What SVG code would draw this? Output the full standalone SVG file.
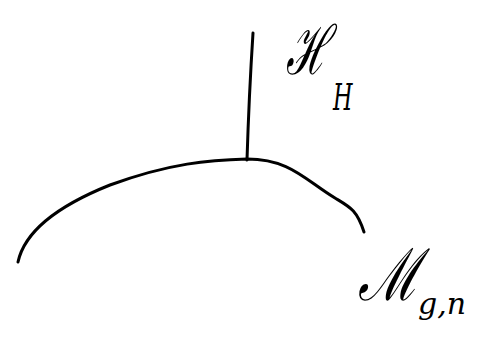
<svg xmlns="http://www.w3.org/2000/svg" width="492" height="350" viewBox="0 0 492 350">
<style>
.stroke{fill:none;stroke:#000;stroke-width:3;stroke-linecap:round;stroke-linejoin:round}
.lbl{font-family:"DejaVu Serif","Liberation Serif",serif;fill:#000;font-style:italic}
</style>
<rect width="492" height="350" fill="#fff"/>
<g id="connectors">
<path class="stroke" d="M253,33 Q249,95 247,160"/>
<path class="stroke" d="M18,262 C25,230 60,205 110,185 C170,163 210,160 247,159 C290,159 305,180 335,198 C350,207 357,210 364,232"/>
</g>
<g id="node-H">
<text class="lbl" transform="translate(286,74) scale(0.6,1)" font-size="68">ℋ</text>
<text class="lbl" transform="translate(333,110) scale(0.8,1.3)" font-size="28">H</text>
</g>
<g id="node-M">
<text class="lbl" transform="translate(358,300) scale(0.75,1)" font-size="72">ℳ</text>
<text class="lbl" x="418" y="314" font-size="30">g,n</text>
</g>
</svg>
